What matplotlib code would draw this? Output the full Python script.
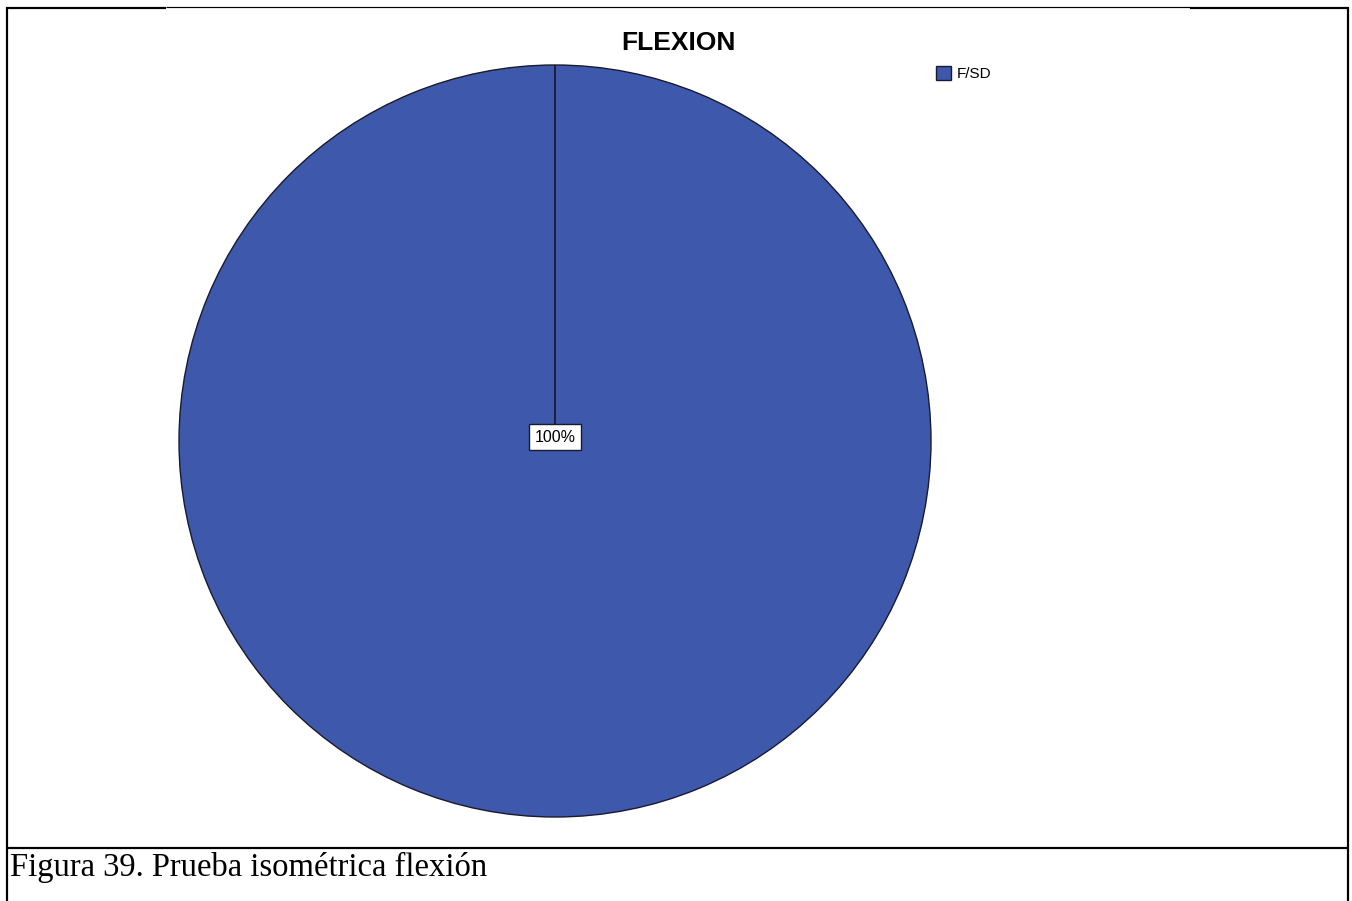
import matplotlib
matplotlib.use("Agg")
import matplotlib.pyplot as plt
from matplotlib.lines import Line2D
import numpy as np

# Data
categories = ["F/SD"]
values = [100]
percent_labels = ["100%"]
title = "FLEXION"
caption = "Figura 39. Prueba isométrica flexión"

W, H = 1352, 901
fig = plt.figure(figsize=(W / 100, H / 100), dpi=100)
fig.patch.set_facecolor("white")


def fx(px):
    return px / W


def fy(py):
    return 1 - py / H


edge = "#1a1a2e"

# Pie axes: centre (555, 441) px, radius 376 px
cx, cy, r = 555, 441, 376
ax = fig.add_axes([fx(cx - r), fy(cy + r), 2 * r / W, 2 * r / H])
wedges, _ = ax.pie(values, startangle=90, counterclock=False,
                   colors=["#3E58AC"], radius=1.0,
                   wedgeprops=dict(edgecolor=edge, linewidth=1.0))

# Radial boundary of each slice (start edge), from the wedge geometry
for w in wedges:
    x0, y0 = w.center
    ang = np.deg2rad(w.theta2)
    ax.plot([x0, x0 + w.r * np.cos(ang)], [y0, y0 + w.r * np.sin(ang)],
            color=edge, linewidth=1.3, zorder=w.get_zorder() + 0.1)

ax.set_xlim(-1.0, 1.0)
ax.set_ylim(-1.0, 1.0)
ax.set_aspect("equal")
ax.axis("off")

ax.text(0, 0.01, percent_labels[0], ha="center", va="center", fontsize=11.5,
        family="Liberation Sans", color="black", zorder=5,
        bbox=dict(boxstyle="square,pad=0.33", facecolor="white",
                  edgecolor=edge, linewidth=1.0))

fig.text(fx(678), fy(43), title, ha="center", va="center", fontsize=19,
         fontweight="bold", family="Liberation Sans")

fig.legend(wedges, categories, loc="upper left",
           bbox_to_anchor=(fx(936), fy(66)), frameon=False,
           prop=dict(family="Liberation Sans", size=11),
           handlelength=1.0, handleheight=1.0, handletextpad=0.35,
           borderpad=0, borderaxespad=0)

fig.text(fx(10), fy(876), caption, ha="left", va="baseline", fontsize=23.5,
         family="Liberation Serif")

# Table frame around the figure and caption
frame = [
    ((6, 166), (7.5, 7.5), 2.2),
    ((166, 1190), (7, 7), 1.2),
    ((1190, 1348), (7.5, 7.5), 2.2),
    ((7, 7), (6.5, 901), 2.2),
    ((1348, 1348), (6.5, 901), 2.2),
    ((7, 1348), (848, 848), 2.2),
]
for xs, ys, lw in frame:
    fig.add_artist(Line2D([fx(xs[0]), fx(xs[1])], [fy(ys[0]), fy(ys[1])],
                          color="black", linewidth=lw * 0.72,
                          solid_capstyle="butt", transform=fig.transFigure))

fig.savefig("out.png", dpi=100, facecolor="white")
